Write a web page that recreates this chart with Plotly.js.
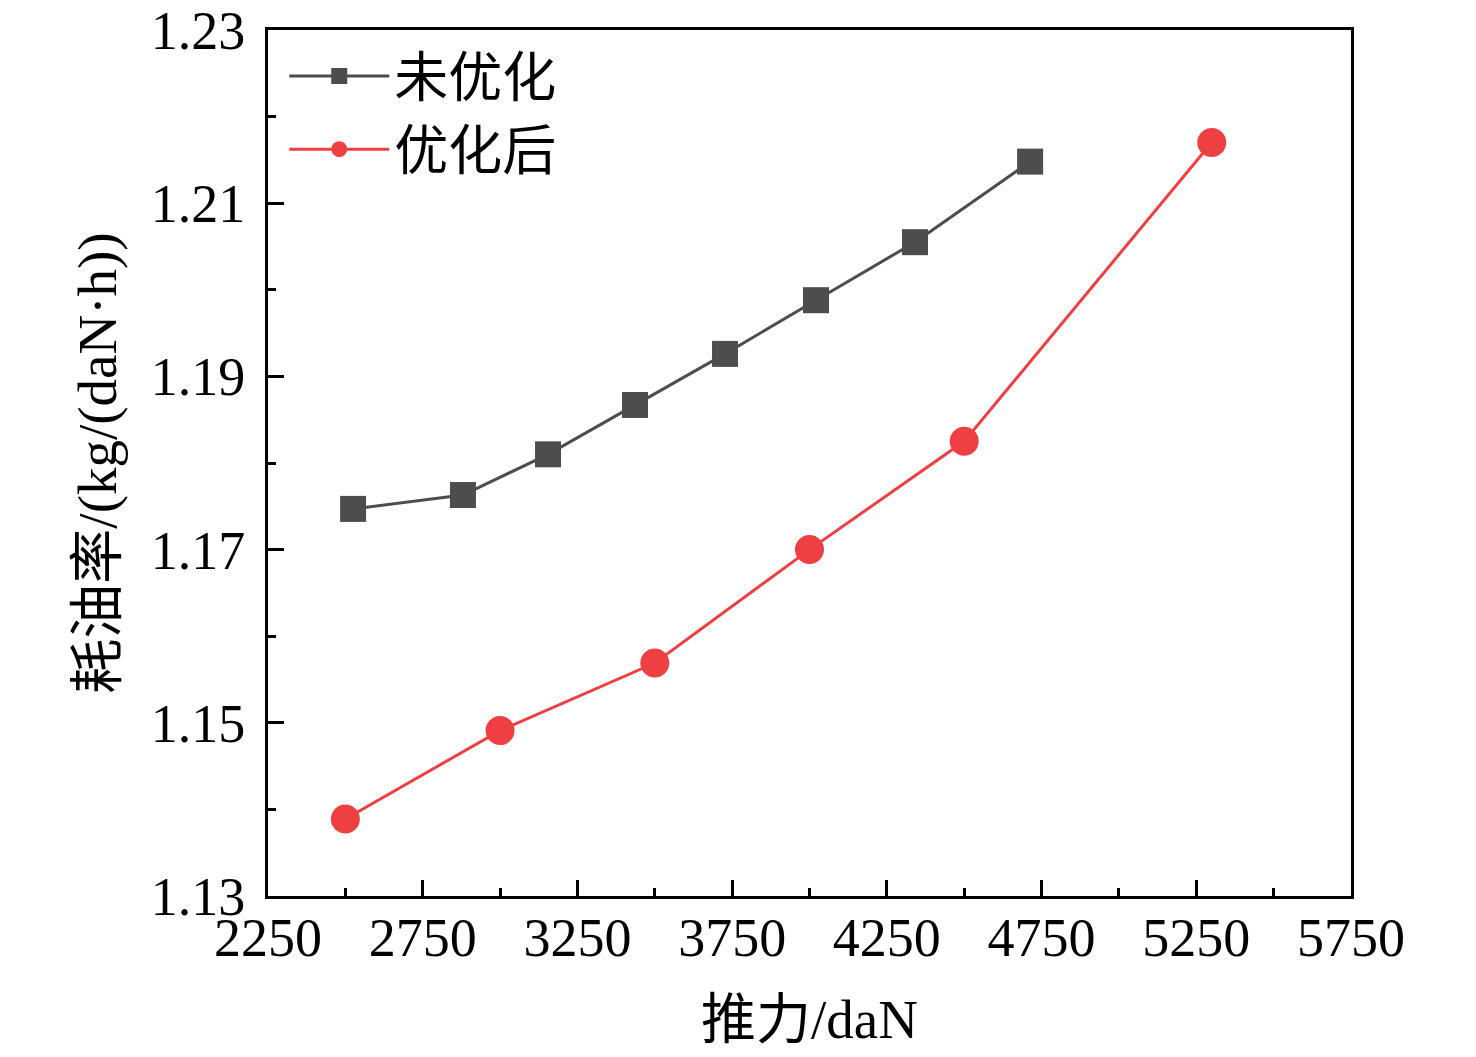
<!DOCTYPE html>
<html>
<head>
<meta charset="utf-8">
<script src="https://cdn.plot.ly/plotly-3.0.1.min.js"></script>
<style>
  html, body { margin: 0; padding: 0; background: #fff; }
  #chart { width: 1476px; height: 1057px; }
</style>
</head>
<body>
<div id="chart"></div>
<script>
// values
var thrustBefore = [2525, 2880, 3155, 3436, 3727, 4021, 4341, 4713];
var sfcBefore = [1.1747, 1.1763, 1.1810, 1.1867, 1.1926, 1.1988, 1.2055, 1.2148];

var thrustAfter = [2500, 3000, 3500, 4000, 4500, 5300];
var sfcAfter = [1.1389, 1.1491, 1.1569, 1.1700, 1.1825, 1.2170];

var seriesNames = ['未优化', '优化后'];
var xTitle = '推力/daN';
var yTitle = '耗油率/(kg/(daN·h))';

var serif = '"Liberation Serif", "Times New Roman", "Noto Sans CJK SC", serif';

var traces = [
  {
    x: thrustBefore, y: sfcBefore, name: seriesNames[0],
    type: 'scatter', mode: 'lines+markers',
    line: {color: '#4d4d4d', width: 3},
    marker: {symbol: 'square', size: 26, color: '#4d4d4d'}
  },
  {
    x: thrustAfter, y: sfcAfter, name: seriesNames[1],
    type: 'scatter', mode: 'lines+markers',
    line: {color: '#ee4043', width: 3},
    marker: {symbol: 'circle', size: 29, color: '#ee4043'}
  }
];

var axisCommon = {
  showgrid: false,
  zeroline: false,
  showline: true,
  linecolor: '#000',
  linewidth: 3,
  mirror: true,
  ticks: 'inside',
  ticklen: 16,
  tickwidth: 3,
  tickcolor: '#000',
  tickfont: {family: serif, size: 54, color: '#000'}
};

var layout = {
  width: 1476,
  height: 1057,
  paper_bgcolor: '#fff',
  plot_bgcolor: '#fff',
  margin: {l: 268, r: 125, t: 30, b: 161},
  showlegend: true,
  legend: {
    x: 0.015, y: 0.995, xanchor: 'left', yanchor: 'top',
    bgcolor: 'rgba(0,0,0,0)',
    itemwidth: 100,
    font: {family: serif, size: 54, color: '#000'},
    tracegroupgap: 0
  },
  xaxis: Object.assign({}, axisCommon, {
    range: [2250, 5750],
    tick0: 2250, dtick: 500,
    ticklabelstandoff: -8,
    minor: {dtick: 250, ticks: 'inside', ticklen: 8, tickwidth: 3, tickcolor: '#000'},
    title: {text: xTitle, font: {family: serif, size: 55, color: '#000'}, standoff: 33}
  }),
  yaxis: Object.assign({}, axisCommon, {
    range: [1.13, 1.23],
    tick0: 1.13, dtick: 0.02,
    tickformat: '.2f',
    ticklabelstandoff: 9,
    minor: {dtick: 0.01, ticks: 'inside', ticklen: 8, tickwidth: 3, tickcolor: '#000'},
    title: {text: yTitle, font: {family: serif, size: 55, color: '#000'}, standoff: 17}
  })
};

Plotly.newPlot('chart', traces, layout, {displayModeBar: false, staticPlot: true});
</script>
</body>
</html>
